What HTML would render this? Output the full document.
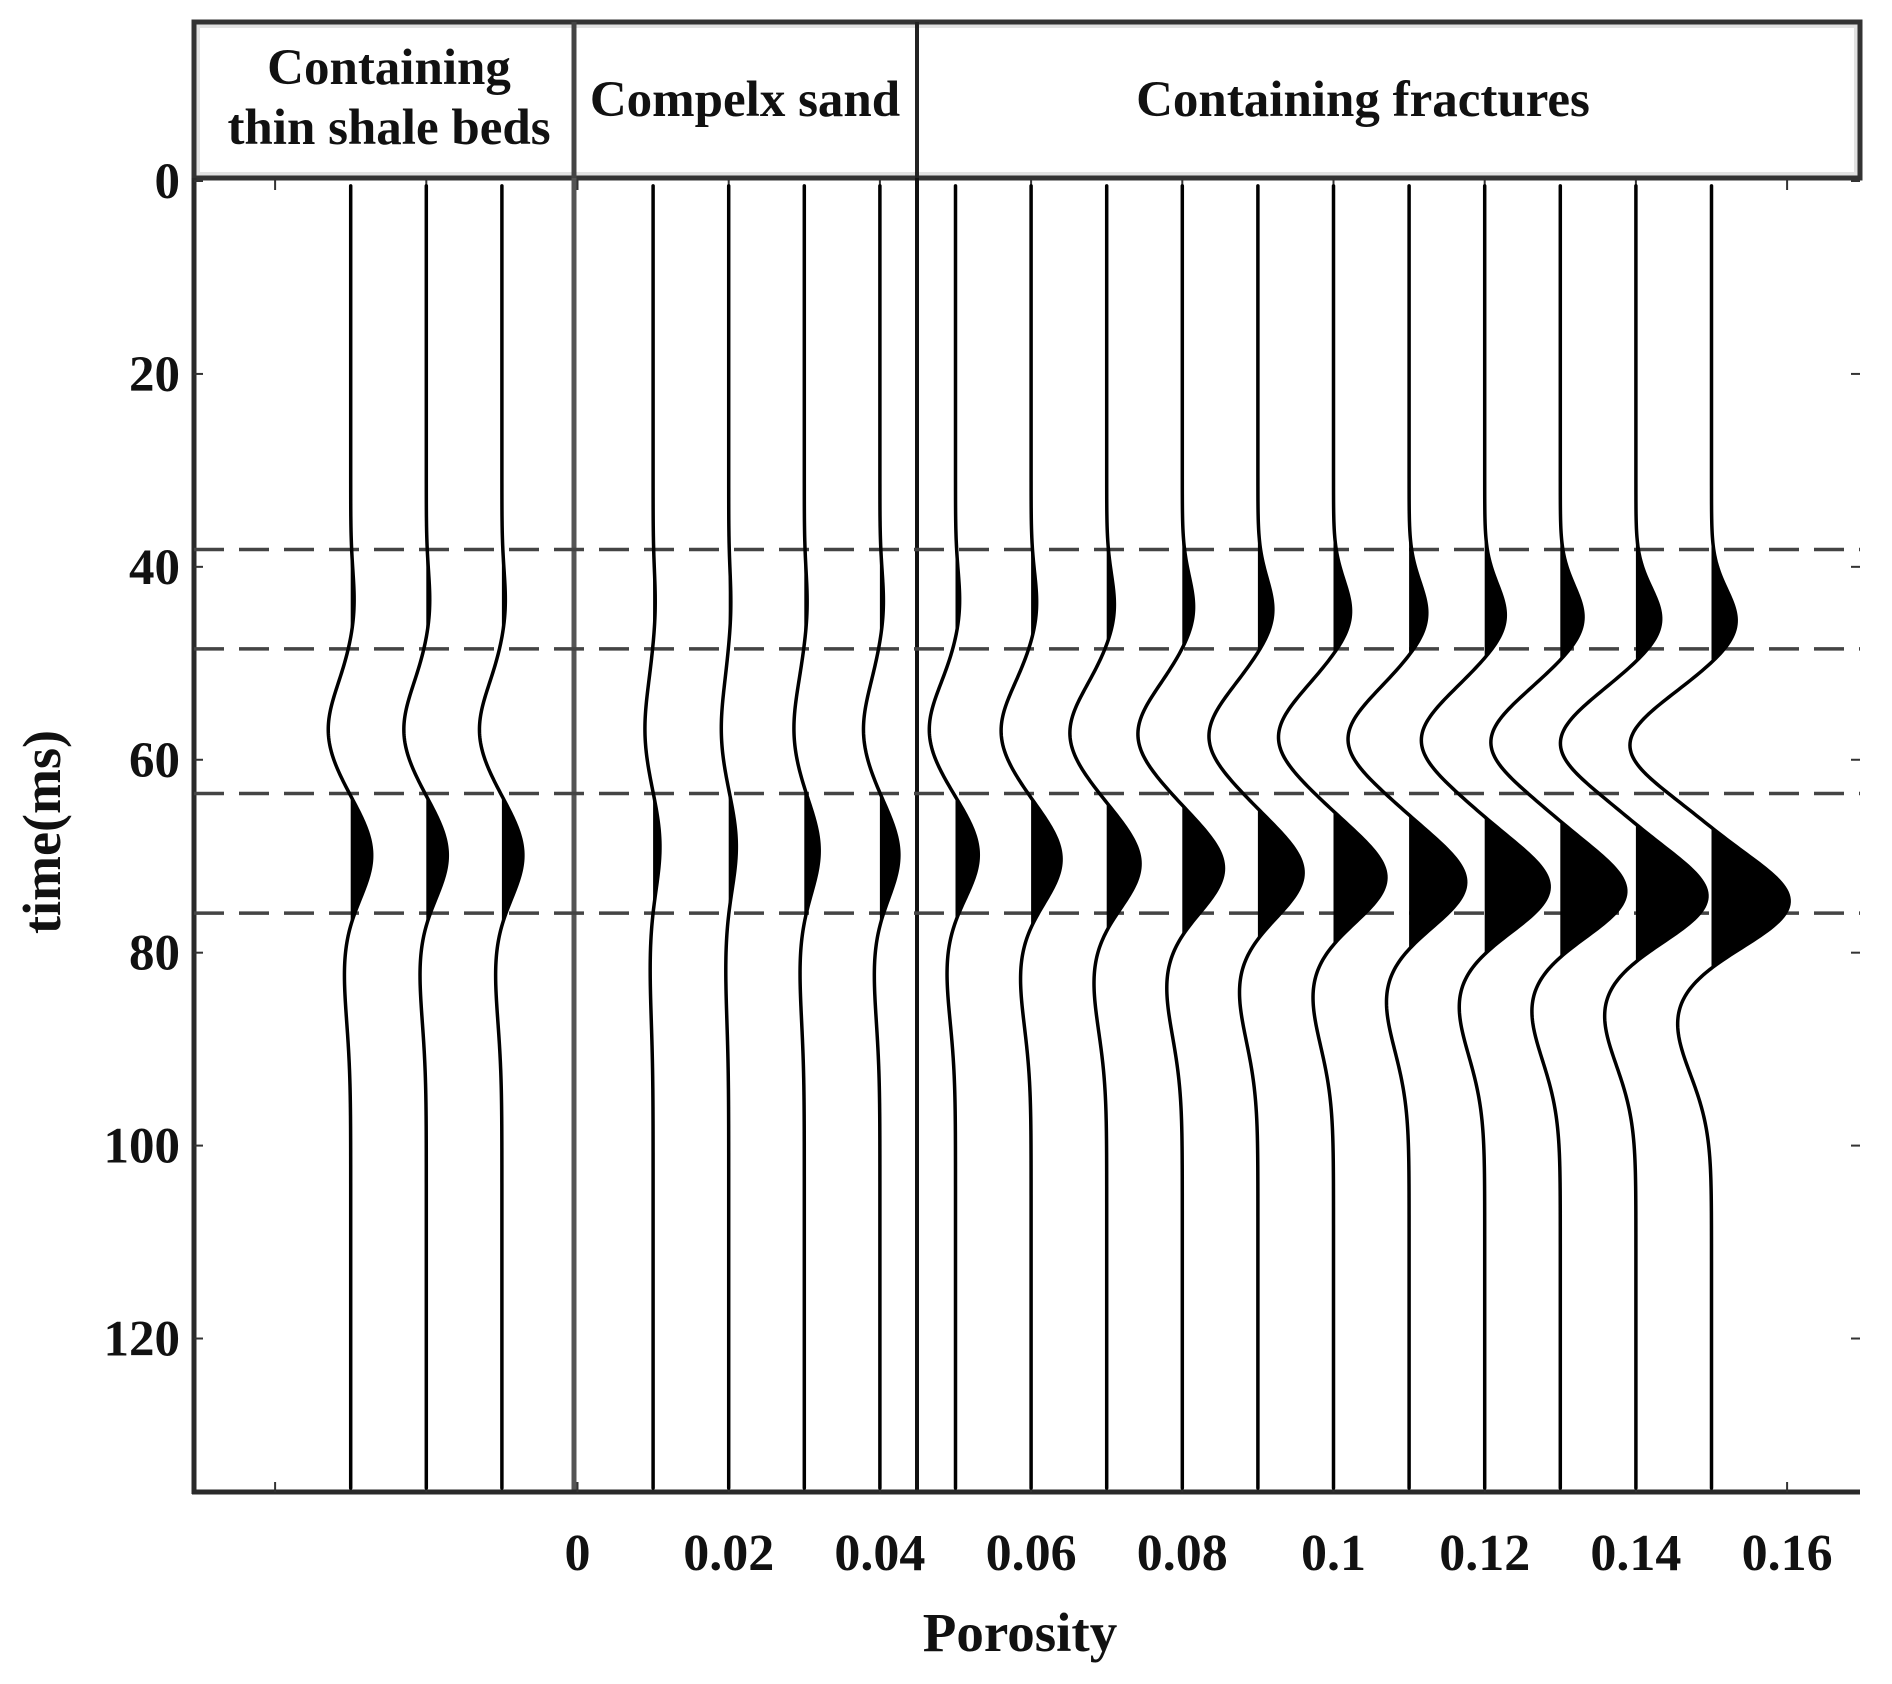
<!DOCTYPE html>
<html><head><meta charset="utf-8">
<style>
html,body{margin:0;padding:0;background:#fff;}
svg{display:block;}
text{font-family:"Liberation Serif",serif;font-weight:bold;fill:#111;}
</style></head>
<body>
<svg id="chart" width="1892" height="1684" viewBox="0 0 1892 1684" xmlns="http://www.w3.org/2000/svg">
  <g id="header">
    <rect x="196" y="24" width="1662" height="152" fill="#fff" stroke="#e2e2e2" stroke-width="8"/>
    <rect x="194" y="22" width="1666" height="156" fill="none" stroke="#333" stroke-width="5"/>
    <line x1="574" y1="22" x2="574" y2="178" stroke="#444" stroke-width="5"/>
    <line x1="917" y1="22" x2="917" y2="178" stroke="#222" stroke-width="4"/>
    <text x="389" y="84" font-size="51" text-anchor="middle">Containing</text>
    <text x="389" y="144" font-size="51" text-anchor="middle">thin shale beds</text>
    <text x="745" y="116" font-size="51" text-anchor="middle">Compelx sand</text>
    <text x="1363" y="116" font-size="51" text-anchor="middle">Containing fractures</text>
  </g>
  <g id="axes"></g>
  <g id="dashes"></g>
  <g id="traces"></g>
  <text x="1020" y="1651" font-size="55" text-anchor="middle">Porosity</text>
  <text transform="translate(60,832) rotate(-90)" font-size="54" text-anchor="middle">time(ms)</text>
</svg>
<script>
// ---- data ----
const tracePositions = [-0.03,-0.02,-0.01,0.01,0.02,0.03,0.04,0.05,0.06,0.07,0.08,0.09,0.10,0.11,0.12,0.13,0.14,0.15];
const lobe1Amp  = [0.05,0.05,0.05,0.03,0.03,0.04,0.05,0.06,0.08,0.11,0.16,0.21,0.24,0.25,0.29,0.32,0.35,0.35];
const lobe1Time = [44,44,44,44,44,44,44,44,44.2,44.4,44.6,44.8,45,45.2,45.4,45.6,45.8,46];
const troughAmp = [-0.30,-0.30,-0.30,-0.11,-0.10,-0.14,-0.22,-0.35,-0.40,-0.49,-0.59,-0.65,-0.73,-0.81,-0.84,-0.92,-1.0,-1.08];
const troughTime= [57,57,57,57,57,57,57,57,57.1,57.3,57.4,57.6,57.7,57.9,58,58.2,58.3,58.5];
const peakAmp   = [0.30,0.30,0.30,0.10,0.11,0.21,0.27,0.33,0.43,0.48,0.59,0.65,0.75,0.81,0.92,0.94,1.02,1.10];
const peakTime  = [70,70,70,69,69,69.5,70,70,70.5,71,71.5,72,72.5,73,73.5,74,74.5,75];
const trough2Amp= [-0.09,-0.09,-0.09,-0.04,-0.04,-0.06,-0.08,-0.12,-0.15,-0.18,-0.22,-0.26,-0.29,-0.32,-0.36,-0.40,-0.44,-0.47];
const trough2Time=[81,81,81,81,81,81,81,81,81.5,82,82.5,83,83.5,84,84.5,85,85.5,86.5];
const dashTimes = [38.2,48.5,63.5,75.9];
const yTicks = [0,20,40,60,80,100,120];
const xTickLabels = [0,0.02,0.04,0.06,0.08,0.1,0.12,0.14,0.16];
const xMinorTicks = [-0.04,-0.02];

// ---- scales ----
const X0=577.5, XS=7560, T0=181, TS=9.646, SPACING=0.01;
const xPx = p => X0 + p*XS;
const tPx = t => T0 + t*TS;
const NS='http://www.w3.org/2000/svg';
function mk(tag, attrs, parent){const e=document.createElementNS(NS,tag);for(const k in attrs)e.setAttribute(k,attrs[k]);parent.appendChild(e);return e;}

const axes=document.getElementById('axes');
let d1=mk('line',{x1:574,y1:178,x2:574,y2:1492,stroke:'#555','stroke-width':5},axes);


let d2=mk('line',{x1:917,y1:178,x2:917,y2:1492,stroke:'#111','stroke-width':4},axes);


let la=mk('line',{x1:194,y1:178,x2:194,y2:1494,stroke:'#2a2a2a','stroke-width':5},axes);


let ba=mk('line',{x1:192,y1:1492,x2:1860,y2:1492,stroke:'#2a2a2a','stroke-width':5},axes);



yTicks.forEach(v=>{
  const y=tPx(v);
  let t=mk('line',{x1:194,y1:y,x2:203,y2:y,stroke:'#333','stroke-width':2},axes);
  
  
  let r=mk('line',{x1:1851,y1:y,x2:1860,y2:y,stroke:'#333','stroke-width':2},axes);
  
  
  let l=mk('text',{x:180,y:y+17,'font-size':51,'text-anchor':'end'},axes);
  l.textContent=String(v);
  
  
});
xMinorTicks.concat(xTickLabels).forEach(v=>{
  const x=xPx(v);
  let a=mk('line',{x1:x,y1:1492,x2:x,y2:1482,stroke:'#333','stroke-width':2},axes);
  
  
  let b=mk('line',{x1:x,y1:180,x2:x,y2:190,stroke:'#333','stroke-width':2},axes);
  
  
});
xTickLabels.forEach(v=>{
  let l=mk('text',{x:xPx(v),y:1570,'font-size':52,'text-anchor':'middle'},axes);
  l.textContent=String(v);
  
  
});

const dashes=document.getElementById('dashes');
dashTimes.forEach(t=>{
  let l=mk('line',{x1:194,y1:tPx(t),x2:1860,y2:tPx(t),stroke:'#444','stroke-width':3.5,'stroke-dasharray':'30 15'},dashes);
  
  
});

const g=(t,c,s)=>Math.exp(-((t-c)*(t-c))/(2*s*s));
const traces=document.getElementById('traces');
tracePositions.forEach((p,i)=>{
  const x0=xPx(p);
  let line='', fill='M'+x0+','+tPx(0.5);
  for(let t=0.5;t<=135.5;t+=0.25){
    const d=lobe1Amp[i]*g(t,lobe1Time[i],3.5)+troughAmp[i]*g(t,troughTime[i],4.6)+peakAmp[i]*g(t,peakTime[i],4.3)+trough2Amp[i]*g(t,trough2Time[i],6);
    const dx=d*SPACING*XS;
    const x=x0+dx, y=tPx(t);
    line+=(line?'L':'M')+x.toFixed(2)+','+y.toFixed(2);
    fill+='L'+(x0+Math.max(0,dx)).toFixed(2)+','+y.toFixed(2);
  }
  fill+='L'+x0+','+tPx(135.5)+'Z';
  let f=mk('path',{d:fill,fill:'#000'},traces);
  
  
  let s=mk('path',{d:line,fill:'none',stroke:'#000','stroke-width':3.5,'stroke-linecap':'round'},traces);
  
  
});
</script>
</body></html>
